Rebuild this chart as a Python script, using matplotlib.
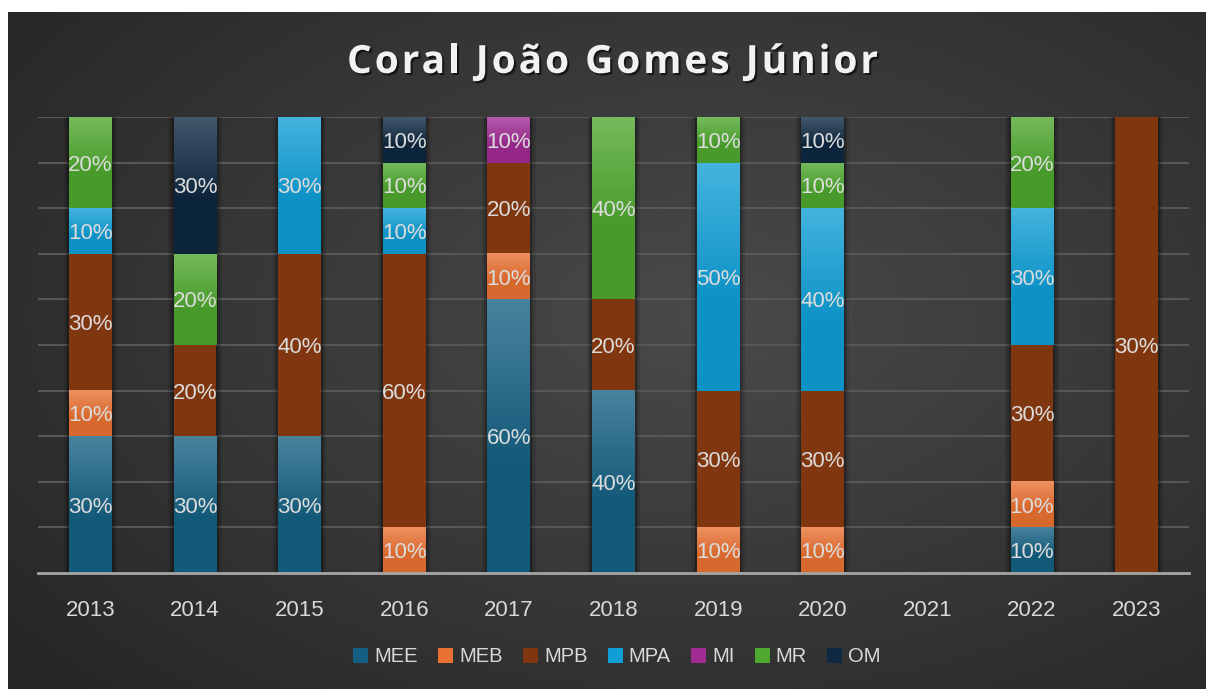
import numpy as np
import matplotlib
matplotlib.use("Agg")
import matplotlib.pyplot as plt
import matplotlib.colors as mcolors
import matplotlib.patheffects as pe

# dados do gráfico (valores em %)
anos = ['2013', '2014', '2015', '2016', '2017', '2018', '2019', '2020', '2021', '2022', '2023']
series = ['MEE', 'MEB', 'MPB', 'MPA', 'MI', 'MR', 'OM']
mee = [30, 30, 30, 0, 60, 40, 0, 0, 0, 10, 0]
meb = [10, 0, 0, 10, 10, 0, 10, 10, 0, 10, 0]
mpb = [30, 20, 40, 60, 20, 20, 30, 30, 0, 30, 30]
mpa = [10, 0, 30, 10, 0, 0, 50, 40, 0, 30, 0]
mi = [0, 0, 0, 0, 10, 0, 0, 0, 0, 0, 0]
mr = [20, 20, 0, 10, 0, 40, 10, 10, 0, 20, 0]
om = [0, 30, 0, 10, 0, 0, 0, 10, 0, 0, 0]
cores = ['#156082', '#E97132', '#80360F', '#0F9ED5', '#A02B93', '#4EA72E', '#0E2841']
gradiente = [True, True, False, True, True, True, True]

valores = np.array([mee, meb, mpb, mpa, mi, mr, om], dtype=float)
totais = valores.sum(axis=0)
perc = np.where(totais > 0, valores / np.where(totais > 0, totais, 1) * 100, 0)

W, H = 1206, 689
fig = plt.figure(figsize=(W / 100, H / 100), dpi=100)
fig.patch.set_facecolor('white')

# fundo com gradiente radial
bg = fig.add_axes([8 / W, 0, 1198 / W, 677 / H], zorder=-5)
yy, xx = np.mgrid[0:1:300j, 0:1:500j]
r = np.sqrt(((xx - 0.58) / 0.75) ** 2 + ((yy - 0.45) / 0.8) ** 2)
r = np.clip(r, 0, 1)
c0 = np.array([0x4a, 0x4a, 0x4a]) / 255
c1 = np.array([0x26, 0x26, 0x26]) / 255
img = c0[None, None, :] * (1 - r[..., None]) + c1[None, None, :] * r[..., None]
bg.imshow(img, aspect='auto', extent=[0, 1, 0, 1], interpolation='bicubic')
bg.set_axis_off()

ax = fig.add_axes([38 / W, 1 - 573 / H, (1189 - 38) / W, (573 - 117) / H])
ax.set_facecolor('none')

x = np.arange(len(anos))
larg = 0.41
base = np.zeros(len(anos))
for i, nome in enumerate(series):
    cor = np.array(mcolors.to_rgb(cores[i]))
    topo = cor + (1 - cor) * 0.22
    fundo = cor * 0.93
    barras = ax.bar(x, perc[i], larg, bottom=base, color=cores[i], label=nome, zorder=3)
    for j, b in enumerate(barras):
        h = b.get_height()
        if h <= 0:
            continue
        # sombra lateral
        for k, a in [(0.05, 0.10), (0.03, 0.15), (0.015, 0.2)]:
            ax.add_patch(plt.Rectangle((b.get_x() - k, b.get_y()), b.get_width() + 2 * k, h,
                                       color='black', alpha=a, lw=0, zorder=2))
        if gradiente[i]:
            t = np.linspace(0, 1, 64)[:, None]
            t = np.clip(t / 0.6, 0, 1)
            grad = topo[None, :] * (1 - t) + fundo[None, :] * t
            ax.imshow(grad[:, None, :], extent=[b.get_x(), b.get_x() + b.get_width(), b.get_y(), b.get_y() + h],
                      aspect='auto', interpolation='bilinear', zorder=3.5)
        ax.text(b.get_x() + b.get_width() / 2, b.get_y() + h / 2, '%d%%' % valores[i][j],
                ha='center', va='center_baseline', color='#DCDCDC', fontsize=16,
                family='Liberation Sans', zorder=5)
    base = base + perc[i]

ax.set_xlim(-0.5, len(anos) - 0.5)
ax.set_ylim(0, 100)
ax.set_yticks(np.arange(10, 101, 10))
ax.yaxis.grid(True, color='#575757', lw=1.5, zorder=0)
ax.set_axisbelow(True)
ax.tick_params(axis='y', left=False, labelleft=False)
ax.set_xticks(x)
ax.set_xticklabels(anos, color='#D9D9D9', fontsize=16, family='Liberation Sans')
ax.tick_params(axis='x', bottom=False, pad=16)
for s in ['top', 'right', 'left']:
    ax.spines[s].set_visible(False)
ax.spines['bottom'].set_color('#A6A6A6')
ax.spines['bottom'].set_linewidth(2)
ax.spines['bottom'].set_zorder(6)

leg = fig.legend(loc='center', bbox_to_anchor=(617 / W, 1 - 657 / H), ncol=7, frameon=False,
                 handlelength=0.75, handleheight=0.75, handletextpad=0.3, columnspacing=1.0,
                 prop={'family': 'Liberation Sans', 'size': 14.5})
for t in leg.get_texts():
    t.set_color('#D9D9D9')

# título com espaçamento entre letras
titulo = 'Coral João Gomes Júnior'
renderer = fig.canvas.get_renderer()
props = dict(fontsize=28, fontweight='bold', family='Open Sans')

def largura(s):
    tt = fig.text(0, 0, s, **props)
    w = tt.get_window_extent(renderer).width
    tt.remove()
    return w

natural = largura(titulo)
alvo = 878 - 347
esp = (alvo - natural) / (len(titulo) - 1)
x0 = (347 + 878) / 2 - alvo / 2
for i, ch in enumerate(titulo):
    if ch == ' ':
        continue
    esq = largura(titulo[:i + 1]) - largura(ch) + i * esp
    fig.text((x0 + esq) / W, 1 - 73 / H, ch, color='#F2F2F2', ha='left', va='baseline',
             path_effects=[pe.withSimplePatchShadow(offset=(1.5, -1.5), shadow_rgbFace='black', alpha=0.6)],
             **props)

fig.savefig('out.png', dpi=100, facecolor=fig.get_facecolor())
